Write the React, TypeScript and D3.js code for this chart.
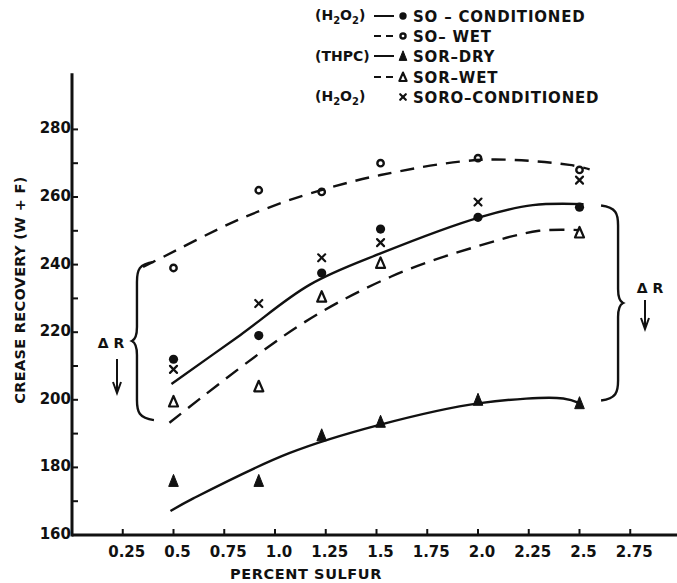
import React from "react";
import * as d3 from "d3";

// ---------- data ----------
const sulfur = [0.5, 0.92, 1.23, 1.52, 2.0, 2.5];
const soConditioned = [212, 219, 237.5, 250.5, 254, 257];
const soWet = [239, 262, 261.5, 270, 271.5, 268];
const sorDry = [176, 176, 189.5, 193.5, 200, 199];
const sorWet: (number | null)[] = [199.5, 204, 230.5, 240.5, null, 249.5];
const soroConditioned = [209, 228.5, 242, 246.5, 258.5, 265];

// hand-drawn fitted curves: [sulfur, recovery]
const soConditionedCurve: [number, number][] = [[0.49, 204.7], [0.83, 219.2], [1.17, 234], [1.52, 243.3], [2.02, 254.2], [2.27, 257.6], [2.52, 257.9]];
const soWetCurve: [number, number][] = [[0.35, 239.3], [0.45, 242.3], [0.78, 252.2], [0.94, 256.2], [1.17, 261], [1.52, 266.5], [2.02, 271], [2.45, 269.5], [2.55, 268.2]];
const sorWetCurve: [number, number][] = [[0.48, 193.2], [1.12, 222], [1.57, 236.4], [1.99, 245.3], [2.3, 250], [2.5, 250.2]];
const sorDryCurve: [number, number][] = [[0.485, 167.1], [0.6, 170.9], [1.07, 184.2], [1.51, 192.5], [2.01, 199], [2.42, 200.4], [2.5, 199]];

// delta-R braces: [sulfur position, top recovery, bottom recovery]
const leftBrace = [0.32, 240.8, 194];
const rightBrace = [2.69, 257.5, 199.8];

const xTicks = [0.25, 0.5, 0.75, 1.0, 1.25, 1.5, 1.75, 2.0, 2.25, 2.5, 2.75];
const xTickLabels = ["0.25", "0.5", "0.75", "1.0", "1.25", "1.5", "1.75", "2.0", "2.25", "2.5", "2.75"];
const yMinorTicks = [170, 180, 190, 200, 210, 220, 230, 240, 250, 260, 270, 280];
const yTickLabels = [160, 180, 200, 220, 240, 260, 280];

const legendPrefix = ["(H2O2)", "", "(THPC)", "", "(H2O2)"];
const legendLabels = ["SO \u2013 CONDITIONED", "SO\u2013 WET", "SOR\u2013DRY", "SOR\u2013WET", "SORO\u2013CONDITIONED"];
const legendLine = ["solid", "dashed", "solid", "dashed", "none"];
const legendMarker = ["dot", "circle", "tri", "opentri", "x"];

// ---------- layout ----------
const W = 677;
const H = 583;
const x = d3.scaleLinear().domain([0, 2.75]).range([72, 72 + 203 * 2.75]);
const y = d3.scaleLinear().domain([160, 280]).range([535, 535 - 120 * 3.38]);
const FONT = "'DejaVu Sans', Verdana, sans-serif";
const INK = "#111";

function Marker({ kind, cx, cy, s = 1 }: { kind: string; cx: number; cy: number; s?: number }) {
  if (kind === "dot") return <circle cx={cx} cy={cy} r={4.6 * s} fill={INK} />;
  if (kind === "circle") return <circle cx={cx} cy={cy} r={3.2 * s} fill="none" stroke={INK} strokeWidth={2.4} />;
  if (kind === "tri")
    return <path d={`M${cx},${cy - 6.5 * s} L${cx + 4.8 * s},${cy + 5.5 * s} L${cx - 4.8 * s},${cy + 5.5 * s} Z`} fill={INK} stroke={INK} strokeWidth={1} strokeLinejoin="round" />;
  if (kind === "opentri")
    return <path d={`M${cx},${cy - 5.5 * s} L${cx + 4.5 * s},${cy + 5 * s} L${cx - 4.5 * s},${cy + 5 * s} Z`} fill="none" stroke={INK} strokeWidth={2.2} strokeLinejoin="round" />;
  if (kind === "x")
    return (
      <g stroke={INK} strokeWidth={2.2} strokeLinecap="round">
        <line x1={cx - 3.5 * s} y1={cy - 3.5 * s} x2={cx + 3.5 * s} y2={cy + 3.5 * s} />
        <line x1={cx - 3.5 * s} y1={cy + 3.5 * s} x2={cx + 3.5 * s} y2={cy - 3.5 * s} />
      </g>
    );
  return null;
}

function bracePath(xs: number, vTop: number, vBot: number, dir: number) {
  // dir = -1 : tip points left; dir = +1 : tip points right
  const bx = x(xs);
  const t = y(vTop);
  const b = y(vBot);
  const m = (t + b) / 2;
  const end = bx - dir * 17;
  const tip = bx + dir * 5;
  return [
    `M${end},${t}`,
    `C${bx - dir * 2},${t + 2} ${bx},${t + 8} ${bx},${t + 20}`,
    `L${bx},${m - 14}`,
    `C${bx},${m - 4} ${tip - dir * 2},${m - 1} ${tip},${m}`,
    `C${tip - dir * 2},${m + 1} ${bx},${m + 4} ${bx},${m + 14}`,
    `L${bx},${b - 20}`,
    `C${bx},${b - 8} ${bx - dir * 2},${b - 2} ${end},${b}`,
  ].join(" ");
}

function H2O2({ xPos, yPos }: { xPos: number; yPos: number }) {
  return (
    <text x={xPos} y={yPos} fontSize={14} fontWeight="bold" fontFamily={FONT} fill={INK}>
      (H<tspan fontSize={10} dy={4}>2</tspan>
      <tspan dy={-4}>O</tspan>
      <tspan fontSize={10} dy={4}>2</tspan>
      <tspan dy={-4}>)</tspan>
    </text>
  );
}

export default function App() {
  const line = d3
    .line<[number, number]>()
    .x((d) => x(d[0]))
    .y((d) => y(d[1]))
    .curve(d3.curveCatmullRom.alpha(0.5));

  const series = [
    { vals: soWet, kind: "circle" },
    { vals: soroConditioned, kind: "x" },
    { vals: soConditioned, kind: "dot" },
    { vals: sorWet, kind: "opentri" },
    { vals: sorDry, kind: "tri" },
  ];

  const legendRowY = [16, 36, 56, 77, 97];

  return (
    <svg width={W} height={H} style={{ display: "block", position: "absolute", left: 0, top: 0, background: "#fff" }}>
      <rect width={W} height={H} fill="#fff" />

      {/* axes */}
      <line x1={x(0)} y1={y(160)} x2={W} y2={y(160)} stroke={INK} strokeWidth={2.8} />
      <line x1={x(0)} y1={y(160) + 1.4} x2={x(0)} y2={y(296.6)} stroke={INK} strokeWidth={3} />
      {xTicks.map((t, i) => (
        <g key={"xt" + i}>
          <line x1={x(t)} y1={y(160)} x2={x(t)} y2={y(160) - 6} stroke={INK} strokeWidth={2} />
          <text x={x(t) + 4} y={557} textAnchor="middle" fontSize={15} fontWeight="bold" fontFamily={FONT} fill={INK}>
            {xTickLabels[i]}
          </text>
        </g>
      ))}
      {yMinorTicks.map((t) => (
        <line key={"ym" + t} x1={x(0)} y1={y(t)} x2={x(0) + 6} y2={y(t)} stroke={INK} strokeWidth={2} />
      ))}
      {yTickLabels.map((t) => (
        <text key={"yl" + t} x={x(0) - 1} y={y(t) + 4} textAnchor="end" fontSize={15} fontWeight="bold" fontFamily={FONT} fill={INK}>
          {t}
        </text>
      ))}
      <text x={306} y={579} textAnchor="middle" fontSize={14.5} fontWeight="bold" fontFamily={FONT} fill={INK} letterSpacing={0.6}>
        PERCENT SULFUR
      </text>
      <text
        transform={`translate(25,290) rotate(-90)`}
        textAnchor="middle"
        fontSize={14.5}
        fontWeight="bold"
        fontFamily={FONT}
        fill={INK}
        letterSpacing={0.3}
      >
        CREASE RECOVERY (W + F)
      </text>

      {/* fitted curves */}
      <path d={line(soWetCurve) || ""} fill="none" stroke={INK} strokeWidth={2.4} strokeDasharray="14 9" />
      <path d={line(soConditionedCurve) || ""} fill="none" stroke={INK} strokeWidth={2.4} />
      <path d={line(sorWetCurve) || ""} fill="none" stroke={INK} strokeWidth={2.4} strokeDasharray="15 9" />
      <path d={line(sorDryCurve) || ""} fill="none" stroke={INK} strokeWidth={2.4} />

      {/* markers */}
      {series.map((s, si) =>
        s.vals.map((v, i) =>
          v == null ? null : <Marker key={si + "-" + i} kind={s.kind} cx={x(sulfur[i])} cy={y(v)} />
        )
      )}

      {/* braces and delta R */}
      <path d={bracePath(leftBrace[0], leftBrace[1], leftBrace[2], -1)} fill="none" stroke={INK} strokeWidth={2.4} />
      <path d={bracePath(rightBrace[0], rightBrace[1], rightBrace[2], 1)} fill="none" stroke={INK} strokeWidth={2.4} />
      <text x={111} y={348} textAnchor="middle" fontSize={14} fontWeight="bold" fontFamily={FONT} fill={INK}>
        Δ R
      </text>
      <line x1={117} y1={359} x2={117} y2={390} stroke={INK} strokeWidth={2} />
      <path d="M113,382 L117,393 L121,382" fill="none" stroke={INK} strokeWidth={2} />
      <text x={650} y={293} textAnchor="middle" fontSize={14} fontWeight="bold" fontFamily={FONT} fill={INK}>
        Δ R
      </text>
      <line x1={645} y1={300} x2={645} y2={326} stroke={INK} strokeWidth={2} />
      <path d="M641,318 L645,329 L649,318" fill="none" stroke={INK} strokeWidth={2} />

      {/* legend */}
      {legendLabels.map((lab, i) => {
        const ry = legendRowY[i];
        const pre = legendPrefix[i];
        return (
          <g key={"lg" + i}>
            {pre === "(H2O2)" ? (
              <H2O2 xPos={315} yPos={ry + 4} />
            ) : pre ? (
              <text x={315} y={ry + 5} fontSize={14} fontWeight="bold" fontFamily={FONT} fill={INK}>
                {pre}
              </text>
            ) : null}
            {legendLine[i] === "solid" && <line x1={374} y1={ry} x2={394} y2={ry} stroke={INK} strokeWidth={2} />}
            {legendLine[i] === "dashed" && (
              <g stroke={INK} strokeWidth={2}>
                <line x1={374} y1={ry} x2={381} y2={ry} />
                <line x1={386} y1={ry} x2={393} y2={ry} />
              </g>
            )}
            <Marker kind={legendMarker[i]} cx={403} cy={ry} s={0.8} />
            <text x={413} y={ry + 5.5} fontSize={15} fontWeight="bold" fontFamily={FONT} fill={INK} letterSpacing={0.8}>
              {lab}
            </text>
          </g>
        );
      })}
    </svg>
  );
}
